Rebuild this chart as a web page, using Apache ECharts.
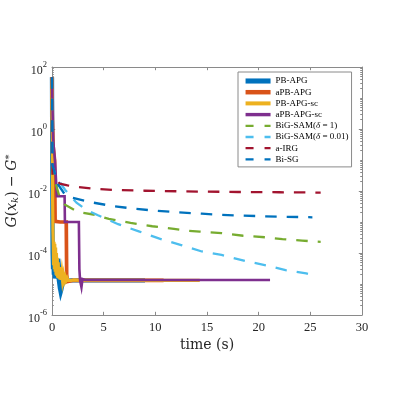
<!DOCTYPE html>
<html><head><meta charset="utf-8">
<script src="https://cdn.jsdelivr.net/npm/echarts@6/dist/echarts.min.js"></script>
<style>html,body{margin:0;padding:0;background:#fff}#c{width:399px;height:396px}</style>
</head><body><div id="c"></div>
<script>
// ---- data (time in s, value G(x_k)-G*) ----
const xTickValues = [0, 5, 10, 15, 20, 25, 30];
const yLabelValues = [1e-6, 1e-4, 1e-2, 1, 100];
const seriesNames = ['PB-APG', 'aPB-APG', 'PB-APG-sc', 'aPB-APG-sc',
  'BiG-SAM(δ = 1)', 'BiG-SAM(δ = 0.01)', 'a-IRG', 'Bi-SG'];

const PB_APG = [[0,47],[0.02,0.3],[0.04,2e-3],[0.06,1e-4],[0.1,3e-5],[0.14,6e-5],[0.18,2e-5],[0.22,5e-5],
  [0.27,1.5e-5],[0.32,4e-5],[0.38,1.8e-5],[0.45,4.5e-5],[0.52,3e-5],[0.6,6.5e-5],[0.66,4e-5],[0.72,1.5e-5],
  [0.78,7e-6],[0.84,5.5e-6],[0.9,6.5e-6],[0.98,9e-6],[1.08,1.1e-5],[1.2,1.2e-5],[1.4,1.26e-5],[1.8,1.3e-5],
  [3,1.3e-5],[5,1.31e-5],[7,1.3e-5],[9,1.3e-5]];
const APB_APG = [[0,47],[0.03,3],[0.1,0.3],[0.25,0.1],[0.3,1.05e-3],[0.8,1.0e-3],[1.38,1.0e-3],[1.42,2e-5],
  [1.5,1.2e-5],[1.65,1.35e-5],[2,1.3e-5],[4,1.3e-5],[7,1.31e-5],[10.8,1.3e-5]];
const PB_APG_SC = [[0,47],[0.03,0.5],[0.06,5e-3],[0.09,5e-4],[0.12,2e-4],[0.15,4e-5],[0.19,2.3e-4],[0.23,3e-5],
  [0.27,2e-4],[0.31,2.5e-5],[0.35,1.5e-4],[0.39,2e-5],[0.43,1e-4],[0.47,1.8e-5],[0.51,7e-5],[0.55,1.6e-5],
  [0.6,5e-5],[0.65,1.5e-5],[0.7,3.5e-5],[0.76,1.4e-5],[0.82,2.6e-5],[0.88,1.35e-5],[0.95,2.2e-5],[1.02,1.3e-5],
  [1.1,1.9e-5],[1.18,1.3e-5],[1.27,1.7e-5],[1.36,1.3e-5],[1.46,1.55e-5],[1.56,1.3e-5],[1.7,1.45e-5],[1.85,1.3e-5],
  [2.1,1.35e-5],[3,1.3e-5],[6,1.3e-5],[10,1.3e-5],[14.3,1.3e-5]];
const APB_APG_SC = [[0,47],[0.1,0.5],[0.3,0.08],[0.45,0.07],[0.47,6.8e-3],[1.22,6.8e-3],[1.25,1.0e-3],[2.6,1.0e-3],
  [2.65,3e-5],[2.72,1.3e-5],[2.85,8e-6],[2.95,1.45e-5],[3.2,1.35e-5],[6,1.35e-5],[12,1.35e-5],[21.1,1.35e-5]];
const BIGSAM_1 = [[0,47],[0.05,0.045],[0.3,0.02],[0.7,7e-3],[1.26,3.6e-3],[2.5,2.1e-3],[4.2,1.7e-3],[5.5,1.26e-3],
  [7.6,9.4e-4],[9.7,7.3e-4],[11.8,6.0e-4],[13.2,5.2e-4],[14.3,4.9e-4],[16.4,4.4e-4],[18.5,3.6e-4],[20.7,3.2e-4],
  [22.3,2.8e-4],[24.2,2.5e-4],[26,2.3e-4]];
const BIGSAM_001 = [[0,47],[0.05,0.06],[0.2,0.045],[0.35,0.03],[1.26,1.1e-2],[2.37,4.2e-3],[3.3,2.5e-3],[4.45,1.65e-3],
  [6.4,8.5e-4],[8.4,5.0e-4],[10.4,2.9e-4],[12.5,1.8e-4],[14.5,1.12e-4],[16.4,8.7e-5],[18.7,5.5e-5],[20.9,3.9e-5],
  [22.6,2.8e-5],[24.6,2.2e-5],[25.2,1.95e-5]];
const A_IRG = [[0,47],[0.05,0.03],[0.75,0.0173],[1.5,0.0152],[2.5,0.0135],[4,0.0118],[6,0.0108],[9,0.0102],
  [13,0.0097],[18,0.0093],[22,0.0091],[26,0.0089]];
const BI_SG = [[0,47],[0.05,0.07],[0.3,0.035],[0.6,0.016],[1.26,7.6e-3],[2,6e-3],[3.5,4.5e-3],[5.8,3.3e-3],
  [7.9,2.7e-3],[10.1,2.3e-3],[12.2,2.05e-3],[14.5,1.85e-3],[16.4,1.7e-3],[18.5,1.6e-3],[20.6,1.53e-3],
  [22.7,1.47e-3],[25.2,1.42e-3]];

// ---- styles ----
const colors = ['#0072BD','#D95319','#EDB120','#7E2F8E','#77AC30','#4DBEEE','#A2142F','#0072BD'];
const widths = [4.3, 3.7, 3.2, 2.6, 2.3, 2.3, 2.3, 2.3];
const dashed = [false,false,false,false,true,true,true,true];
const datasets = [PB_APG, APB_APG, PB_APG_SC, APB_APG_SC, BIGSAM_1, BIGSAM_001, A_IRG, BI_SG];

const axisColor = '#8a8a8a';
const textColor = '#262626';
const serif = 'Liberation Serif';

// minor tick positions for the log axis
const minorTicks = [];
for (let n = -6; n <= 1; n++) {
  for (let k = 1; k <= 9; k++) {
    if (k === 1 && n % 2 === 0) continue;
    minorTicks.push(k * Math.pow(10, n));
  }
}

const series = seriesNames.map((name, i) => ({
  name, type: 'line', data: datasets[i], symbol: 'none', showSymbol: false,
  animation: false, clip: true, xAxisIndex: 0, yAxisIndex: 0,
  lineStyle: { color: colors[i], width: widths[i], type: dashed[i] ? [11.5, 10] : 'solid', cap: 'butt', join: 'miter' },
  itemStyle: { color: colors[i] },
  emphasis: { disabled: true }
}));

const yLabelRich = {
  b: { fontFamily: serif, fontSize: 12, color: textColor, lineHeight: 12, padding: [8, 0, 0, 0] },
  s: { fontFamily: serif, fontSize: 8.5, color: textColor, lineHeight: 9, padding: [0, 0, 4, 0] }
};
function yFmt(v) {
  const e = Math.round(Math.log10(v));
  return '{b|10}{s|' + e + '}';
}

function yAxisDef(pos, minor) {
  return {
    type: 'log', logBase: 10, min: 1e-6, max: 1e2, position: pos,
    axisLine: { show: !minor, onZero: false, lineStyle: { color: axisColor, width: 1 } },
    axisTick: { show: true, inside: true, length: minor ? 1.8 : 3.2,
      customValues: minor ? minorTicks : yLabelValues, lineStyle: { color: axisColor, width: 1 } },
    axisLabel: { show: (pos === 'left' && !minor), customValues: yLabelValues, formatter: yFmt, margin: 5, rich: yLabelRich },
    splitLine: { show: false }, minorTick: { show: false },
    name: (pos === 'left' && !minor) ? '{i|G}({i|x}{k|k}) − {i|G}{st|*}' : '',
    nameLocation: 'middle', nameGap: 32, nameRotate: 90, nameMoveOverlap: false,
    nameTextStyle: {
      fontFamily: 'DejaVu Serif', fontSize: 14, color: textColor,
      rich: {
        i: { fontFamily: 'DejaVu Serif', fontStyle: 'italic', fontSize: 14, color: textColor },
        k: { fontFamily: 'DejaVu Serif', fontStyle: 'italic', fontSize: 10, color: textColor, padding: [6, 0, 0, 0] },
        st: { fontFamily: 'DejaVu Serif', fontSize: 10, color: textColor, padding: [0, 0, 6, 0] }
      }
    }
  };
}

const chart = echarts.init(document.getElementById('c'), null, { renderer: 'canvas' });
chart.setOption({
  animation: false,
  backgroundColor: '#fff',
  grid: { left: 52, right: 37, top: 67, bottom: 81, containLabel: false, outerBoundsMode: 'none' },
  xAxis: [
    { type: 'value', min: 0, max: 30, interval: 5, position: 'bottom',
      axisLine: { show: true, onZero: false, lineStyle: { color: axisColor, width: 1 } },
      axisTick: { show: true, inside: true, length: 3.2, lineStyle: { color: axisColor, width: 1 } },
      axisLabel: { fontFamily: serif, fontSize: 12.5, color: textColor, margin: 6 },
      splitLine: { show: false },
      name: 'time (s)', nameLocation: 'middle', nameGap: 23, nameMoveOverlap: false,
      nameTextStyle: { fontFamily: 'DejaVu Serif', fontSize: 14, color: textColor } },
    { type: 'value', min: 0, max: 30, interval: 5, position: 'top',
      axisLine: { show: true, onZero: false, lineStyle: { color: axisColor, width: 1 } },
      axisTick: { show: true, inside: true, length: 3.2, lineStyle: { color: axisColor, width: 1 } },
      axisLabel: { show: false }, splitLine: { show: false } }
  ],
  yAxis: [yAxisDef('left', false), yAxisDef('left', true), yAxisDef('right', false), yAxisDef('right', true)],
  legend: {
    orient: 'vertical', left: 238, top: 72, padding: [4.5, 3, 3, 5],
    itemWidth: 25, itemHeight: 9, itemGap: 2.2,
    backgroundColor: '#fff', borderColor: axisColor, borderWidth: 1, borderRadius: 0,
    selectedMode: false,
    itemStyle: { opacity: 0, borderWidth: 0 },
    textStyle: { fontFamily: serif, fontSize: 9, color: '#000',
      rich: { it: { fontFamily: serif, fontStyle: 'italic', fontSize: 9, color: '#000' } } },
    formatter: name => name.replace('δ', '{it|δ}'),
    data: seriesNames.map((name, i) => ({
      name,
      itemStyle: { opacity: 0, borderWidth: 0 },
      lineStyle: { width: dashed[i] ? 2.3 : widths[i] + 0.8, type: dashed[i] ? [8, 11] : 'solid', cap: 'butt', color: colors[i] }
    }))
  },
  series
});
</script></body></html>
